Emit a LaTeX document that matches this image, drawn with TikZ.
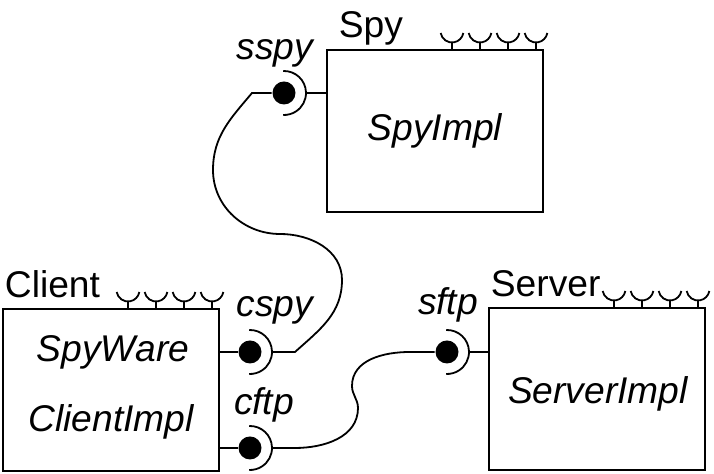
\documentclass[tikz,border=0pt]{standalone}
\usepackage{fontspec}
\setmainfont{Liberation Sans}

\tikzset{
  comp/.style={draw, minimum width=108pt, minimum height=81pt, inner sep=0pt, outer sep=0pt},
  ball/.style={circle, fill=black, minimum size=11.5pt, inner sep=0pt},
  portname/.style={anchor=base, inner sep=0pt, font=\fontsize{18.6}{22}\selectfont\itshape},
  compname/.style={anchor=base west, inner sep=0pt},
  impl/.style={anchor=base, inner sep=0pt, font=\fontsize{18.6}{22}\selectfont\itshape},
}

\begin{document}
\begin{tikzpicture}[x=0.5pt, y=0.5pt, line width=0.9pt, font=\fontsize{18.6}{22}\selectfont]
        \useasboundingbox (0,0) rectangle (714,474);
        % components
        \node [comp] (spy) at (435,343) {};
        \node [comp] (client) at (111,84) {};
        \node [comp] (server) at (597,85) {};
        \node [impl] (spyimpl) at (435,333) {SpyImpl};
        \node [impl] (spyware) at (113,112) {SpyWare};
        \node [impl] (clientimpl) at (111,42) {ClientImpl};
        \node [impl] (serverimpl) at (598,70) {ServerImpl};
        \node [compname] (spyname) at ([shift={(11,12)}]spy.north west) {Spy};
        \node [compname] (clientname) at ([shift={(1,11)}]client.north west) {Client};
        \node [compname] (servername) at ([shift={(1,11)}]server.north west) {Server};
        % receptacles on top
        \foreach \c in {spy, client, server}
          \foreach \i in {0,...,3}
            \draw ([shift={({-7-28*\i},0)}]\c.north east) -- ++(0,8) ++(0,11) ++(190:11.5) arc (190:350:11.5);
        % ports
        \node [ball] (sspy) at (284,381) {};
        \node [ball] (cspy) at (250,122) {};
        \node [ball] (cftp) at (250,26) {};
        \node [ball] (sftp) at (447,122) {};
        \foreach \p in {sspy, cspy, cftp, sftp}
          \draw ([shift={(92:22)}]\p.center) arc (92:-92:22);
        \path (275,414) node [portname] (sspyname) {sspy}
              (275,157) node [portname] (cspyname) {cspy}
              (264,59)  node [portname] (cftpname) {cftp}
              (448,159) node [portname] (sftpname) {sftp};
        \draw ([shift={(22,0)}]sspy.center) -- (spy.west |- sspy);
        \draw (client.east |- cspy) -- (cspy);
        \draw (client.east |- cftp) -- (cftp);
        \draw ([shift={(22,0)}]sftp.center) -- (server.west |- sftp);
        % wires
        \draw ([shift={(22,0)}]cspy.center) -- (295,122) to [out=42, in=-90] (342,194)
              to [out=90, in=0] (280,240) to [out=180, in=-90] (213,304)
              to [out=90, in=-130] (252,381) -- (sspy);
        \draw ([shift={(22,0)}]cftp.center) -- (295,26) to [out=0, in=-90] (358,66)
              to [out=90, in=-90] (352,88) to [out=90, in=180] (410,122) -- (sftp);
    \end{tikzpicture}
\end{document}
